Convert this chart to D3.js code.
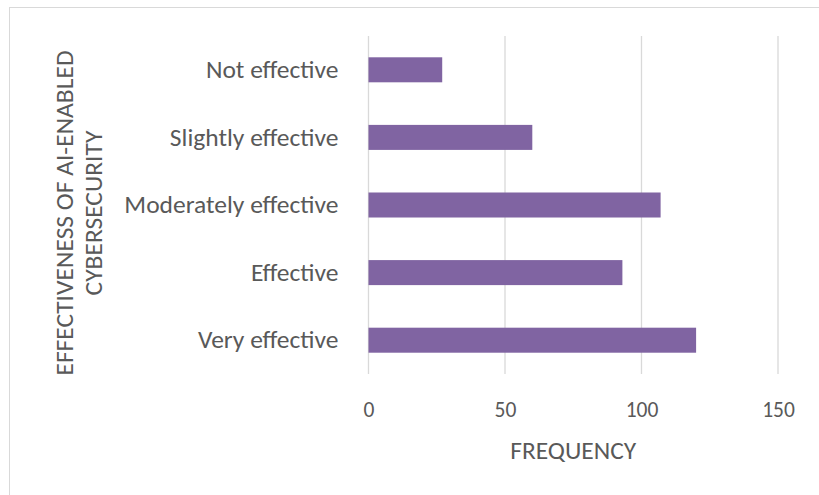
<!DOCTYPE html>
<html lang="en">
<head>
  <meta charset="UTF-8">
  <title>Effectiveness of AI-enabled cybersecurity</title>
  <script src="https://d3js.org/d3.v7.min.js"></script>
  <style>
    body {
      margin: 0;
      background: #fff;
      font-family: Carlito, Calibri, Lato, sans-serif;
    }
    svg text {
      fill: #595959;
      font-family: Carlito, Calibri, Lato, sans-serif;
    }
  </style>
</head>
<body>
  <div id="chart"></div>

  <script>
    const categories = ["Not effective", "Slightly effective", "Moderately effective", "Effective", "Very effective"];
    const frequency = [27, 60, 107, 93, 120];
    const xTicks = [0, 50, 100, 150];

    const width = 819;
    const height = 495;
    const margin = { top: 36, right: 41, bottom: 121, left: 368.5 };

    const svg = d3.select("#chart").append("svg")
      .attr("width", width)
      .attr("height", height);

    // chart frame (right and bottom edges fall outside the picture)
    svg.append("rect")
      .attr("x", 9.5)
      .attr("y", 7.5)
      .attr("width", 900)
      .attr("height", 600)
      .attr("fill", "none")
      .attr("stroke", "#d9d9d9");

    const x = d3.scaleLinear()
      .domain([0, 150])
      .range([margin.left, width - margin.right]);

    const y = d3.scaleBand()
      .domain(categories)
      .range([margin.top, height - margin.bottom])
      .paddingInner(0.63)
      .paddingOuter(0.315);

    // gridlines
    svg.append("g")
      .selectAll("line")
      .data(xTicks)
      .join("line")
        .attr("x1", d => x(d))
        .attr("x2", d => x(d))
        .attr("y1", margin.top)
        .attr("y2", height - margin.bottom)
        .attr("stroke", "#d9d9d9")
        .attr("stroke-width", 1.3);

    // bars
    svg.append("g")
      .selectAll("rect")
      .data(categories)
      .join("rect")
        .attr("x", x(0))
        .attr("y", d => y(d))
        .attr("width", (d, i) => x(frequency[i]) - x(0))
        .attr("height", y.bandwidth())
        .attr("fill", "#8064a2");

    // x axis
    const xAxis = svg.append("g")
      .attr("transform", `translate(0,${height - margin.bottom})`)
      .call(d3.axisBottom(x).tickValues(xTicks).tickSize(0).tickPadding(28));
    xAxis.select(".domain").remove();
    xAxis.selectAll("text")
      .style("font-size", "21.5px")
      .style("font-family", "Carlito, Calibri, Lato, sans-serif");

    // y axis
    const yAxis = svg.append("g")
      .attr("transform", `translate(${x(0)},0)`)
      .call(d3.axisLeft(y).tickSize(0).tickPadding(30));
    yAxis.select(".domain").remove();
    yAxis.selectAll("text")
      .style("font-size", "25.5px")
      .style("font-family", "Carlito, Calibri, Lato, sans-serif");

    // axis titles
    svg.append("text")
      .attr("x", (x(0) + x(150)) / 2)
      .attr("y", 459)
      .attr("text-anchor", "middle")
      .style("font-size", "25.5px")
      .text("FREQUENCY");

    const yTitle = svg.append("text")
      .attr("transform", "translate(0,213) rotate(-90)")
      .attr("text-anchor", "middle")
      .style("font-size", "25.5px");
    yTitle.append("tspan").attr("x", 0).attr("y", 73).text("EFFECTIVENESS OF AI-ENABLED");
    yTitle.append("tspan").attr("x", 0).attr("y", 102).text("CYBERSECURITY");
  </script>
</body>
</html>
